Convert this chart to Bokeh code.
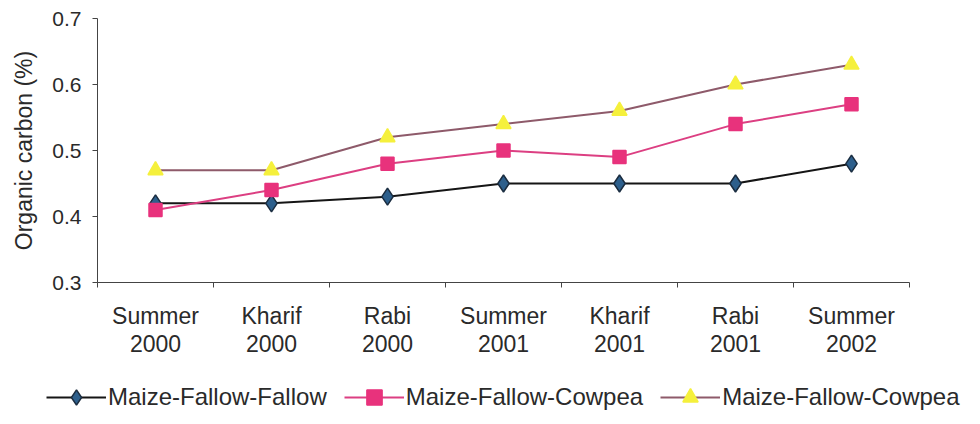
from bokeh.plotting import figure
from bokeh.models import (FixedTicker, LinearAxis, Range1d, Legend, LegendItem,
                          ColumnDataSource, PrintfTickFormatter)
from bokeh.embed import file_html
from bokeh.resources import INLINE

seasons = ["Summer", "Kharif", "Rabi", "Summer", "Kharif", "Rabi", "Summer"]
years = ["2000", "2000", "2000", "2001", "2001", "2001", "2002"]
mff = [0.42, 0.42, 0.43, 0.45, 0.45, 0.45, 0.48]
mfc1 = [0.41, 0.44, 0.48, 0.50, 0.49, 0.54, 0.57]
mfc2 = [0.47, 0.47, 0.52, 0.54, 0.56, 0.60, 0.63]
series_names = ["Maize-Fallow-Fallow", "Maize-Fallow-Cowpea", "Maize-Fallow-Cowpea"]
y_ticks = [0.3, 0.4, 0.5, 0.6, 0.7]

xc = [i + 0.5 for i in range(len(seasons))]
FONT = "Liberation Sans"
TXT = "#2a2a2a"

styles = [
    dict(line="#151515", marker="diamond", size=17, fill="#2d5f8c", edge="#1b2d40"),
    dict(line="#dc3f82", marker="square", size=13, fill="#e8327c", edge="#e8327c"),
    dict(line="#8e5a6a", marker="triangle", size=15, fill="#f5f03c", edge="#f5f03c"),
]

p = figure(width=964, height=360, output_backend="svg", toolbar_location=None,
           x_range=Range1d(0, len(seasons)), y_range=Range1d(0.3, 0.7),
           x_axis_location=None, y_axis_location=None,
           min_border_left=97, min_border_top=18, min_border_right=55,
           min_border_bottom=78)
p.outline_line_color = None
p.xgrid.visible = False
p.ygrid.visible = False
p.background_fill_color = "white"
p.border_fill_color = "white"

yax = LinearAxis(ticker=FixedTicker(ticks=y_ticks, minor_ticks=[]),
                 formatter=PrintfTickFormatter(format="%.1f"),
                 axis_label="Organic carbon (%)")
yax.axis_line_color = "#444444"
yax.major_tick_line_color = "#444444"
yax.major_tick_in = 0
yax.major_tick_out = 5
yax.major_label_text_font = FONT
yax.major_label_text_font_size = "21px"
yax.major_label_text_color = TXT
yax.major_label_standoff = 11
yax.axis_label_text_font = FONT
yax.axis_label_text_font_size = "23px"
yax.axis_label_text_font_style = "normal"
yax.axis_label_text_color = TXT
yax.axis_label_standoff = 12
p.add_layout(yax, "left")

xax = LinearAxis(ticker=FixedTicker(ticks=xc, minor_ticks=list(range(len(seasons) + 1))))
xax.major_label_overrides = {x: f"{s}\n{yr}" for x, s, yr in zip(xc, seasons, years)}
xax.axis_line_color = "#444444"
xax.major_tick_line_color = None
xax.major_tick_out = 5
xax.minor_tick_line_color = "#444444"
xax.minor_tick_in = 0
xax.minor_tick_out = 5
xax.major_label_text_font = FONT
xax.major_label_text_font_size = "23px"
xax.major_label_text_color = TXT
xax.major_label_standoff = 15
xax.major_label_text_line_height = 1.1
p.add_layout(xax, "below")

src = ColumnDataSource(dict(x=xc, s0=mff, s1=mfc1, s2=mfc2))
for i, st in enumerate(styles):
    p.line("x", f"s{i}", source=src, line_color=st["line"], line_width=2)
    p.scatter("x", f"s{i}", source=src, marker=st["marker"], size=st["size"],
              fill_color=st["fill"], line_color=st["edge"], line_width=1.5)

# legend strip below the chart (its glyphs share the data, kept out of view)
lf = figure(width=964, height=56, output_backend="svg", toolbar_location=None,
            x_range=Range1d(100, 101), y_range=Range1d(100, 101),
            x_axis_location=None, y_axis_location=None,
            min_border_left=0, min_border_right=0, min_border_top=0, min_border_bottom=0)
lf.outline_line_color = None
lf.xgrid.visible = False
lf.ygrid.visible = False
items = []
for i, (name, st) in enumerate(zip(series_names, styles)):
    lr = lf.line("x", f"s{i}", source=src, line_color=st["line"], line_width=2)
    mr = lf.scatter("x", f"s{i}", source=src, marker=st["marker"], fill_color=st["fill"],
                    line_color=st["edge"], line_width=1.5)
    items.append(LegendItem(label=name, renderers=[lr, mr]))

legend = Legend(items=items, location=(46, 0), orientation="horizontal")
legend.border_line_color = None
legend.background_fill_alpha = 0
legend.label_text_font = FONT
legend.label_text_font_size = "24px"
legend.label_text_color = TXT
legend.glyph_width = 60
legend.glyph_height = 38
legend.label_standoff = 2
legend.spacing = 17
legend.padding = 0
legend.margin = 0
lf.add_layout(legend, "center")

open("out.html", "w").write(file_html([p, lf], INLINE))
